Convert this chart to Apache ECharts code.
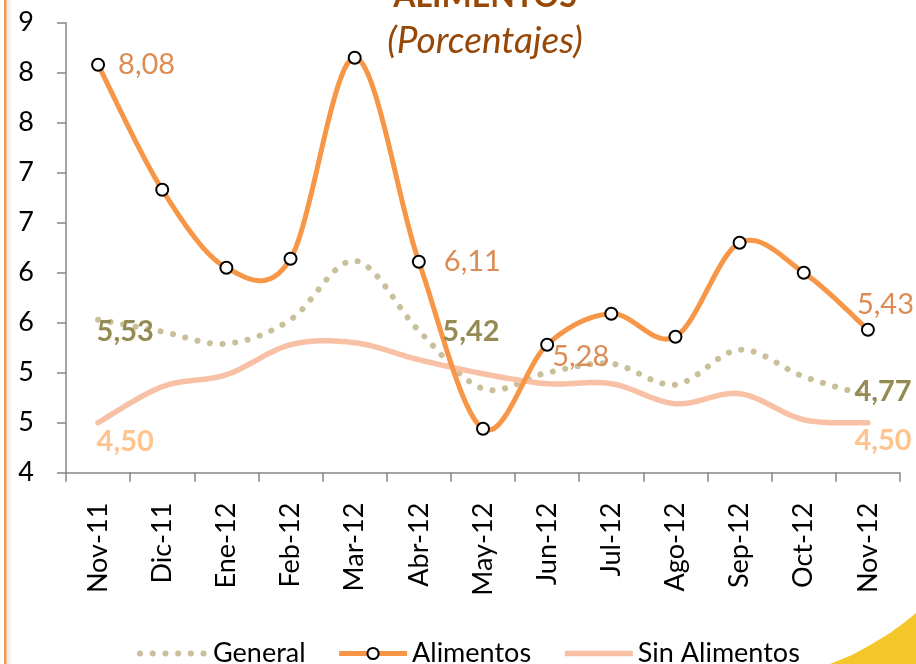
<!DOCTYPE html>
<html>
<head>
<meta charset="utf-8">
<script src="https://cdn.jsdelivr.net/npm/echarts@6/dist/echarts.min.js"></script>
<style>
  html, body { margin: 0; padding: 0; background: #fff; }
  #chart { width: 916px; height: 664px; }
</style>
</head>
<body>
<div id="chart"></div>
<script>
'use strict';
// datos
const months = ['Nov-11', 'Dic-11', 'Ene-12', 'Feb-12', 'Mar-12', 'Abr-12', 'May-12',
                'Jun-12', 'Jul-12', 'Ago-12', 'Sep-12', 'Oct-12', 'Nov-12'];
const general = [5.53, 5.41, 5.29, 5.53, 6.12, 5.42, 4.84, 5.00, 5.09, 4.88, 5.23, 4.96, 4.77];
const alimentos = [8.08, 6.83, 6.05, 6.14, 8.15, 6.11, 4.44, 5.28, 5.59, 5.36, 6.30, 6.00, 5.43];
const sinAlimentos = [4.50, 4.86, 4.98, 5.28, 5.30, 5.13, 4.99, 4.89, 4.89, 4.69, 4.79, 4.53, 4.50];

const FONT = 'Lato, "Open Sans", sans-serif';

const C_GENERAL = '#c9bf9a';
const C_ALIM = '#f79646';
const C_SIN = '#f8c0a5';

// etiquetas visibles: indice -> desplazamiento
const alimentosLabels = { 0: [13, 0], 5: [18, 0], 7: [-2, 12], 12: [-18, -25] };
const generalLabels = { 0: [-2, 12], 5: [23, 1], 12: [-14, -4] };
const sinLabels = { 0: [-2, 19], 12: [-14, 18] };

const fmt = v => v.toFixed(2).replace('.', ',');

const withLabels = (values, labels, style) => values.map((v, i) => {
    if (!labels[i]) return v;
    return {
        value: v,
        label: {
            show: true,
            position: 'right',
            distance: 0,
            offset: labels[i],
            formatter: p => fmt(p.value),
            ...style
        }
    };
});

// curva suavizada tipo Excel (Catmull-Rom -> Bezier), muestreada
const smoothPoints = (pts) => {
    const out = [];
    const steps = 24;
    for (let i = 0; i < pts.length - 1; i++) {
        const p0 = pts[i - 1] || pts[i];
        const p1 = pts[i];
        const p2 = pts[i + 1];
        const p3 = pts[i + 2] || pts[i + 1];
        const c1 = [p1[0] + (p2[0] - p0[0]) / 6, p1[1] + (p2[1] - p0[1]) / 6];
        const c2 = [p2[0] - (p3[0] - p1[0]) / 6, p2[1] - (p3[1] - p1[1]) / 6];
        for (let s = (i === 0 ? 0 : 1); s <= steps; s++) {
            const t = s / steps, u = 1 - t;
            out.push([
                u * u * u * p1[0] + 3 * u * u * t * c1[0] + 3 * u * t * t * c2[0] + t * t * t * p2[0],
                u * u * u * p1[1] + 3 * u * u * t * c1[1] + 3 * u * t * t * c2[1] + t * t * t * p2[1]
            ]);
        }
    }
    return out;
};

const curve = (name, values, lineStyle, z) => ({
    type: 'custom',
    name: name + ' curva',
    silent: true,
    z,
    data: values.map((v, i) => [i, v]),
    encode: { x: 0, y: 1 },
    renderItem: (params, api) => {
        if (params.dataIndex !== 0) return null;
        const pts = values.map((v, i) => api.coord([i, v]));
        return {
            type: 'polyline',
            shape: { points: smoothPoints(pts) },
            style: { fill: null, ...lineStyle }
        };
    }
});

const chart = echarts.init(document.getElementById('chart'), null, { renderer: 'canvas' });

chart.setOption({
    animation: false,
    backgroundColor: '#ffffff',
    textStyle: { fontFamily: FONT },
    grid: { left: 66, right: 16, top: 22.7, bottom: 191.3 },
    graphic: [
        // borde izquierdo
        { type: 'rect', shape: { x: 6.5, y: 0, width: 4, height: 664 }, style: { fill: '#efefef' } },
        { type: 'rect', shape: { x: 4, y: 0, width: 2.5, height: 664 }, style: { fill: '#f79646' } },
        // adorno amarillo
        {
            type: 'polygon',
            shape: { points: [[830, 664], [852, 655], [872, 644], [890, 633], [905, 622], [916, 613], [916, 664]] },
            style: { fill: '#f4c62a' }
        },
        {
            type: 'text', x: 485, y: -3,
            style: { text: 'ALIMENTOS', font: 'bold 32px ' + FONT, fill: '#974706', textAlign: 'center', textVerticalAlign: 'middle' }
        },
        {
            type: 'text', x: 485, y: 41,
            style: { text: '(Porcentajes)', font: 'italic 37px ' + FONT, fill: '#974706', textAlign: 'center', textVerticalAlign: 'middle' }
        }
    ],
    legend: {
        left: 132,
        top: 635,
        itemWidth: 68,
        itemHeight: 14,
        itemGap: 31,
        textStyle: { fontSize: 27, color: '#000', fontFamily: FONT },
        data: [
            {
                name: 'General',
                lineStyle: { color: C_GENERAL, width: 6, type: [0.1, 12.6], cap: 'round', opacity: 1 },
                itemStyle: { opacity: 0 }
            },
            {
                name: 'Alimentos',
                lineStyle: { color: C_ALIM, width: 5, type: 'solid', opacity: 1 },
                itemStyle: { color: '#fff', borderColor: '#000', borderWidth: 2, opacity: 1 }
            },
            {
                name: 'Sin Alimentos',
                lineStyle: { color: C_SIN, width: 5.5, type: 'solid', opacity: 1 },
                itemStyle: { opacity: 0 }
            }
        ]
    },
    xAxis: {
        type: 'category',
        data: months,
        boundaryGap: true,
        axisLine: { lineStyle: { color: '#868686', width: 1.5 } },
        axisTick: { show: true, length: 9, lineStyle: { color: '#868686', width: 1.5 } },
        axisLabel: { rotate: 90, margin: 30, fontSize: 27, color: '#000', fontFamily: FONT }
    },
    yAxis: {
        type: 'value',
        min: 4,
        max: 8.5,
        interval: 0.5,
        splitLine: { show: false },
        axisLine: { show: true, lineStyle: { color: '#868686', width: 1.5 } },
        axisTick: { show: true, length: 9, lineStyle: { color: '#868686', width: 1.5 } },
        axisLabel: {
            margin: 32, fontSize: 27, color: '#000', fontFamily: FONT,
            formatter: v => String(Math.round(v))
        }
    },
    series: [
        curve('General', general, { stroke: C_GENERAL, lineWidth: 6, lineDash: [0.1, 12.6], lineCap: 'round' }, 2),
        curve('Sin Alimentos', sinAlimentos, { stroke: C_SIN, lineWidth: 5.5, lineCap: 'round', lineJoin: 'round' }, 3),
        curve('Alimentos', alimentos, { stroke: C_ALIM, lineWidth: 5, lineCap: 'round', lineJoin: 'round' }, 4),
        {
            name: 'General',
            type: 'line',
            symbol: 'circle',
            symbolSize: 1,
            itemStyle: { color: C_GENERAL, borderWidth: 0, opacity: 0 },
            lineStyle: { color: C_GENERAL, opacity: 0 },
            data: withLabels(general, generalLabels, {
                color: '#948a54', fontSize: 29, fontWeight: 'bold', fontFamily: FONT, opacity: 1
            }),
            z: 6
        },
        {
            name: 'Alimentos',
            type: 'line',
            symbol: 'circle',
            symbolSize: 12,
            itemStyle: { color: '#ffffff', borderColor: '#000000', borderWidth: 2 },
            lineStyle: { color: C_ALIM, opacity: 0 },
            data: withLabels(alimentos, alimentosLabels, {
                color: '#dc8b52', fontSize: 29, fontFamily: FONT
            }),
            z: 7
        },
        {
            name: 'Sin Alimentos',
            type: 'line',
            symbol: 'circle',
            symbolSize: 1,
            itemStyle: { color: C_SIN, borderWidth: 0, opacity: 0 },
            lineStyle: { color: C_SIN, opacity: 0 },
            data: withLabels(sinAlimentos, sinLabels, {
                color: '#ffc48e', fontSize: 29, fontWeight: 'bold', fontFamily: FONT, opacity: 1
            }),
            z: 6
        }
    ]
});
</script>
</body>
</html>
